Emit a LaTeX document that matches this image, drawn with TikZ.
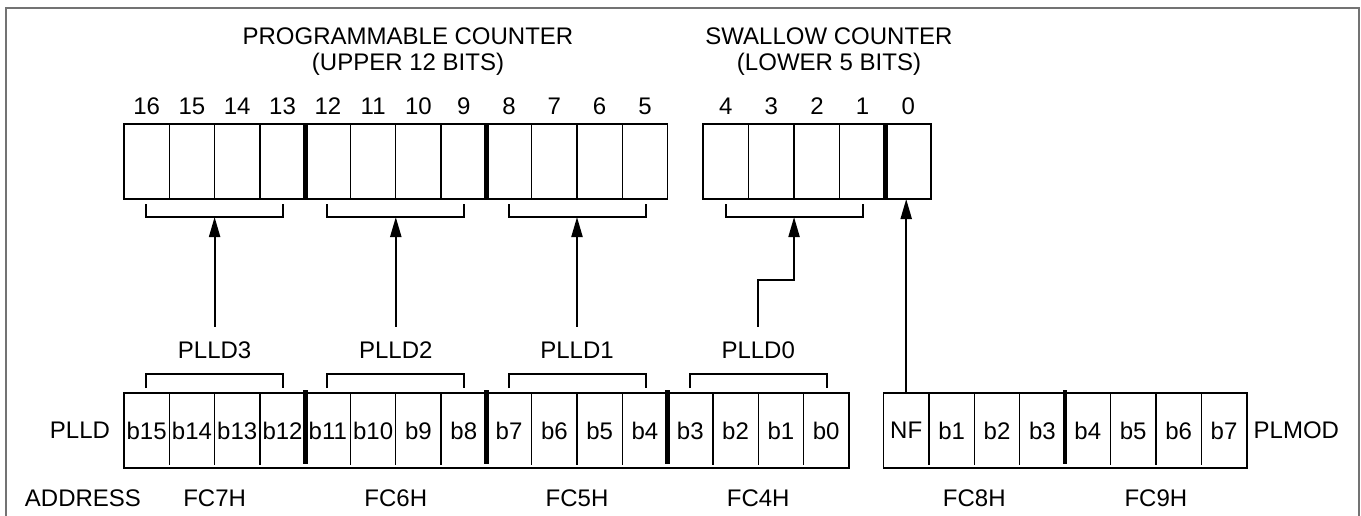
\documentclass[tikz,border=0pt]{standalone}
\usepackage{fontspec}
\setmainfont{Liberation Sans}
\usetikzlibrary{arrows.meta, positioning}

\begin{document}
\begin{tikzpicture}[
x=0.5pt, y=-0.5pt,
every node/.style={
font=\fontsize{12}{13}\selectfont,
inner sep=0pt,
outer sep=0pt
},
cell/.style={minimum width=22.65pt, minimum height=37.5pt},
reg/.style={line width=0.85pt},
div/.style={line width=0.65pt},
thickdiv/.style={line width=2.3pt},
bracket/.style={line width=1pt},
arrow/.style={-{Triangle[width=5.5pt,length=10pt]}, line width=1.05pt},
outerframe/.style={draw=black!55, line width=1pt}
]

\useasboundingbox (0,0) rectangle (1361,515);
\draw[outerframe] (5.5,525) -- (5.5,8) -- (1358.5,8) -- (1358.5,525);

\coordinate (numrow) at (0,106);
\coordinate (plldrow) at (0,350);
\coordinate (addrrow) at (0,498);
\coordinate (jog) at (0,280);

% ------------------------
% Counters (top)
% ------------------------
\node[align=center] (pctitle) at (408,52) {PROGRAMMABLE COUNTER\\(UPPER 12 BITS)};
\node[align=center] (sctitle) at (829,52) {SWALLOW COUNTER\\(LOWER 5 BITS)};

\foreach \k [evaluate=\k as \n using int(16-\k)] in {0,...,11} {
  \node[cell] (u\k) at ({124+45.3*(\k+0.5)},161.5) {};
  \node (un\k) at (u\k |- numrow) {\n};
}
\foreach \k [evaluate=\k as \n using int(4-\k)] in {0,...,4} {
  \node[cell] (s\k) at ({703+45.6*(\k+0.5)},161.5) {};
  \node (sn\k) at (s\k |- numrow) {\n};
}

\draw[reg] (u0.north west) rectangle (u11.south east);
\draw[reg] (s0.north west) rectangle (s4.south east);
\foreach \k in {0,1,2,4,5,6,8,9,10} \draw[div] (u\k.north east) -- (u\k.south east);
\foreach \k in {3,7} \draw[thickdiv] (u\k.north east) -- (u\k.south east);
\foreach \k in {0,1,2} \draw[div] (s\k.north east) -- (s\k.south east);
\draw[thickdiv] (s3.north east) -- (s3.south east);

% brackets under the counters
\foreach \g in {u1,u5,u9,s1} {
  \draw[bracket] ([xshift=-34.25pt,yshift=-2.5pt]\g.south east) -- ++(0,13) -- ++(137,0) -- ++(0,-13);
  \coordinate (t\g) at ([yshift=-9pt]\g.south east);
}

% ------------------------
% Registers (bottom)
% ------------------------
\foreach \k [evaluate=\k as \n using int(15-\k)] in {0,...,15}
  \node[cell] (b\k) at ({124+45.3*(\k+0.5)},430.5) {b\n};
\foreach \t [count=\k from 0] in {NF,b1,b2,b3,b4,b5,b6,b7}
  \node[cell] (m\k) at ({883.5+45.4*(\k+0.5)},430.5) {\t};

\draw[reg] (b0.north west) rectangle (b15.south east);
\draw[reg] (m0.north west) rectangle (m7.south east);
\foreach \k in {0,1,2,4,5,6,8,9,10,12,13,14} \draw[div] (b\k.north east) -- ([yshift=1.5pt]b\k.south east);
\foreach \k in {3,7,11} \draw[thickdiv] ([yshift=1.5pt]b\k.north east) -- ([yshift=2pt]b\k.south east);
\foreach \k in {0,1,2,4,5,6} \draw[div] (m\k.north east) -- ([yshift=1.5pt]m\k.south east);
\draw[thickdiv] ([yshift=1.5pt]m3.north east) -- ([yshift=2pt]m3.south east);

% brackets over the registers
\foreach \g in {b1,b5,b9,b13}
  \draw[bracket] ([xshift=-34.25pt,yshift=2.5pt]\g.north east) -- ++(0,-14) -- ++(137,0) -- ++(0,14);

\node[left=7pt of b0] (plldlbl) {PLLD};
\node[right=3.5pt of m7] (plmodlbl) {PLMOD};
\node (addr) at (83,498) {ADDRESS};
\foreach \g/\t in {b1/FC7H,b5/FC6H,b9/FC5H,b13/FC4H,m1/FC8H,m5/FC9H}
  \node (fc\g) at (\g.east |- addrrow) {\t};

\foreach \g/\d in {b1/3,b5/2,b9/1,b13/0}
  \node (pd\d) at (\g.east |- plldrow) {PLLD\d};

% ------------------------
% Arrows
% ------------------------
\foreach \d/\g in {3/u1,2/u5,1/u9}
  \draw[arrow, shorten <=7.5pt] (pd\d.north) -- (t\g);
\draw[arrow, shorten <=7.5pt] (pd0.north) -- (pd0.north |- jog) -| (ts1);
\draw[arrow] (m0.north) -- (m0.north |- s4.south);

\end{tikzpicture}
\end{document}
